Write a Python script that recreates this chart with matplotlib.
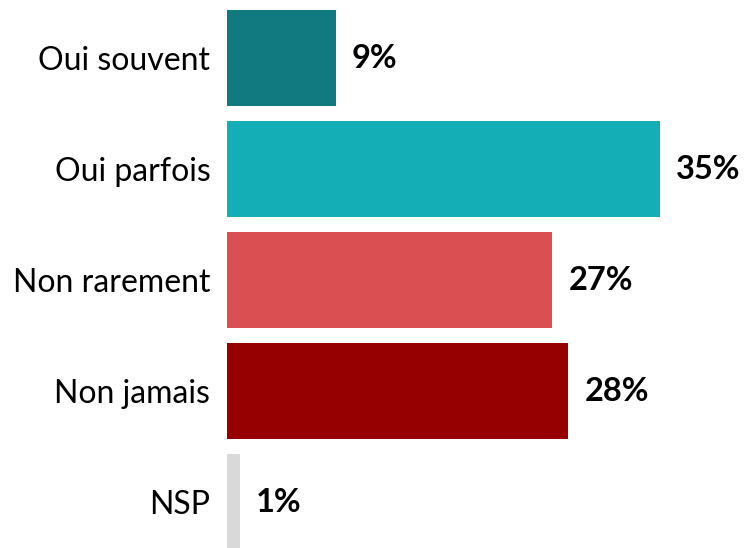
import matplotlib
matplotlib.use("Agg")
import matplotlib.pyplot as plt

categories = ["Oui souvent", "Oui parfois", "Non rarement", "Non jamais", "NSP"]
values = [8.8, 35.0, 26.3, 27.6, 1.05]
labels = ["9%", "35%", "27%", "28%", "1%"]
colors = ["#117A80", "#14AFB6", "#D94F52", "#960000", "#D9D9D9"]

W, H = 748, 548
fig = plt.figure(figsize=(W / 100, H / 100), dpi=100)
ax = fig.add_axes([227 / W, 0, 1 - 227 / W, 1 - 10 / H])

ypos = list(range(len(categories)))
ax.barh(ypos, values, height=0.865, color=colors)

px_per_unit = 12.37
ax.set_xlim(0, (W - 227) / px_per_unit)
ax.set_ylim(4.414, -0.4324)

for y, v, lab in zip(ypos, values, labels):
    ax.annotate(lab, xy=(v, y), xytext=(16, 0), textcoords="offset pixels",
                ha="left", va="center", fontsize=23.5, fontweight="bold",
                family=["Lato", "DejaVu Sans"], color="black")

ax.set_yticks(ypos)
ax.set_yticklabels(categories, fontsize=23, family=["Lato", "DejaVu Sans"])
ax.tick_params(axis="y", length=0, pad=12)
ax.set_xticks([])
for s in ax.spines.values():
    s.set_visible(False)

fig.savefig("out.png", dpi=100)
